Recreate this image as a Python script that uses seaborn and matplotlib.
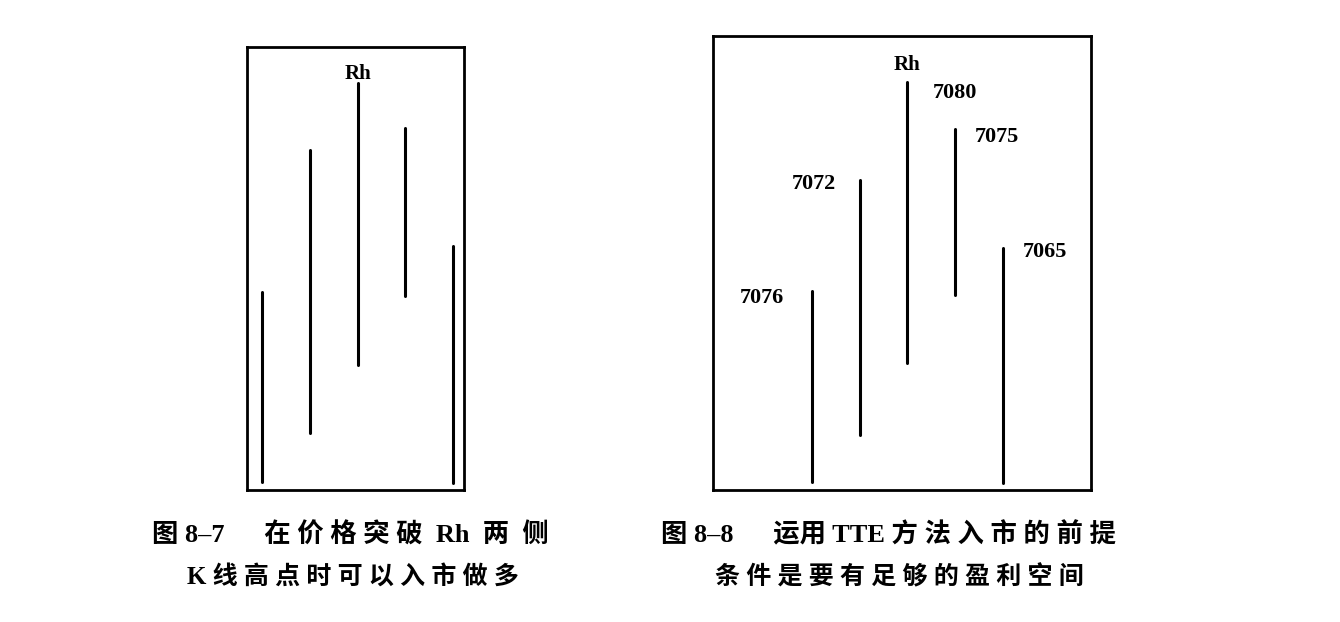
import pandas as pd
import matplotlib
matplotlib.use("Agg")
import matplotlib.pyplot as plt
import seaborn as sns

sns.set_style("white")
plt.rcParams['font.family'] = ['Liberation Serif', 'Noto Sans CJK SC', 'DejaVu Sans']
plt.rcParams['text.color'] = 'black'

# Bar ranges (price units, arbitrary scale)
bars = [0, 1, 2, 3, 4]
left_highs = [198, 340, 407, 362, 244]
left_lows = [8, 57, 125, 194, 7]
right_highs = [199, 310, 408, 361, 242]
right_lows = [8, 55, 127, 195, 7]
right_labels = ["7076", "7072", "7080", "7075", "7065"]

left_caption = ["图 8–7      在 价 格 突 破  Rh  两  侧", "K 线 高 点 时 可 以 入 市 做 多"]
right_caption = ["图 8–8      运用 TTE 方 法 入 市 的 前 提", "条 件 是 要 有 足 够 的 盈 利 空 间"]


def to_long(highs, lows):
    rows = []
    for b, h, l in zip(bars, highs, lows):
        rows.append({"bar": b, "price": h})
        rows.append({"bar": b, "price": l})
    return pd.DataFrame(rows)


fig = plt.figure(figsize=(13.4, 6.22), dpi=100)
ax1 = fig.add_axes([0.1843, 0.2122, 0.162, 0.7122])
ax2 = fig.add_axes([0.532, 0.2122, 0.2821, 0.7299])

for ax, highs, lows in [(ax1, left_highs, left_lows), (ax2, right_highs, right_lows)]:
    sns.lineplot(data=to_long(highs, lows), x="bar", y="price", units="bar",
                 estimator=None, sort=False, color="black", lw=2.2, ax=ax, legend=False)
    ax.set_xlabel("")
    ax.set_ylabel("")
    ax.set_xticks([])
    ax.set_yticks([])
    for s in ax.spines.values():
        s.set_visible(True)
        s.set_color("black")
        s.set_linewidth(2)

ax1.set_xlim(-0.314, 4.23)
ax1.set_ylim(0, 443)
ax2.set_xlim(-2.073, 5.843)
ax2.set_ylim(0, 454)

# Rh marks above the highest bar
ax1.annotate("Rh", xy=(2, left_highs[2]), xytext=(0, -1), textcoords="offset points",
             ha="center", va="bottom", fontsize=15, fontweight="bold")
ax2.annotate("Rh", xy=(2, right_highs[2]), xytext=(0, 5), textcoords="offset points",
             ha="center", va="bottom", fontsize=15, fontweight="bold")

# price labels next to each bar top
offsets = [(-36, -5), (-33, -3), (34, -8), (30, -6), (30, -3)]
for b, h, lab, off in zip(bars, right_highs, right_labels, offsets):
    ax2.annotate(lab, xy=(b, h), xytext=off, textcoords="offset points",
                 ha="center", va="center", fontsize=16, fontweight="bold")

fig.text(0.2612, 0.1399, left_caption[0], ha="center", va="center", fontsize=19, fontweight="bold")
fig.text(0.2634, 0.0723, left_caption[1], ha="center", va="center", fontsize=18, fontweight="bold")
fig.text(0.6627, 0.1399, right_caption[0], ha="center", va="center", fontsize=19, fontweight="bold")
fig.text(0.6709, 0.0723, right_caption[1], ha="center", va="center", fontsize=18, fontweight="bold")

fig.savefig("out.png", dpi=100)
